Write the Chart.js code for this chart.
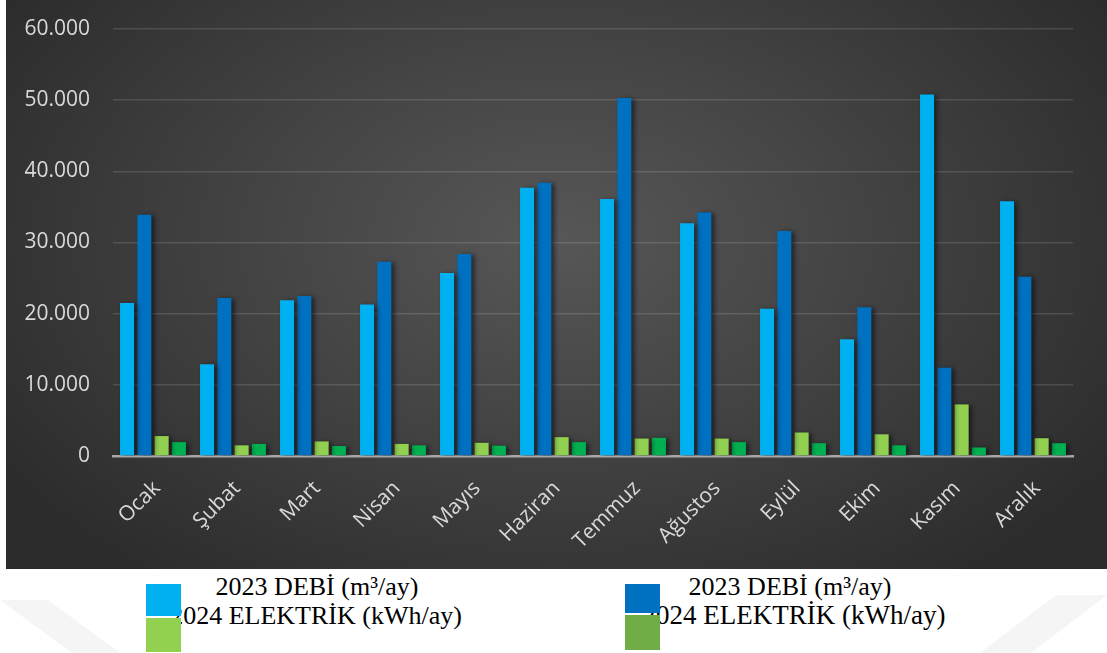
<!DOCTYPE html>
<html>
<head>
<meta charset="utf-8">
<script src="https://cdn.jsdelivr.net/npm/chart.js@4/dist/chart.umd.min.js"></script>
<style>
  html, body { margin: 0; padding: 0; background: #fff; }
  body { width: 1107px; height: 653px; position: relative; overflow: hidden; }
  #panel {
    position: absolute; left: 6px; top: 0; width: 1101px; height: 569px;
    background: radial-gradient(ellipse 60% 75% at 50% 42%, #575757 0%, #444 45%, #2c2c2c 100%);
  }
  #panel canvas { display: block; }
  .wm { position: absolute; background: #f5f5f5; }
  .leg-text {
    position: absolute; width: 420px; text-align: center;
    font-family: "Liberation Serif", "Times New Roman", serif; font-size: 26px;
    line-height: 29px; color: #000; white-space: nowrap;
  }
  .leg-box { position: absolute; width: 35px; z-index: 2; }
</style>
</head>
<body>
<div class="wm" style="left:0;top:600px;width:120px;height:53px;clip-path:polygon(0 0,40% 0,100% 100%,60% 100%);"></div>
<div class="wm" style="left:980px;top:595px;width:127px;height:58px;clip-path:polygon(60% 0,100% 0,40% 100%,0 100%);"></div>
<div id="panel"><canvas id="chart" width="1101" height="569"></canvas></div>
<div id="legend"></div>
<script>
const months = ['Ocak', 'Şubat', 'Mart', 'Nisan', 'Mayıs', 'Haziran', 'Temmuz', 'Ağustos', 'Eylül', 'Ekim', 'Kasım', 'Aralık'];

const seriesLabels = ['2023 DEBİ (m³/ay)', '2023 DEBİ (m³/ay)', '2024 ELEKTRİK (kWh/ay)', '2024 ELEKTRİK (kWh/ay)'];
const debiA = [21500, 12900, 21900, 21300, 25700, 37700, 36100, 32700, 20700, 16400, 50800, 35800];
const debiB = [33900, 22200, 22500, 27300, 28400, 38400, 50300, 34200, 31600, 20900, 12400, 25200];
const elektrikA = [2800, 1500, 2050, 1700, 1850, 2650, 2450, 2450, 3300, 3050, 7250, 2500];
const elektrikB = [1950, 1700, 1400, 1500, 1450, 1950, 2550, 1950, 1800, 1500, 1200, 1800];

const yTickLabels = ['0', '10.000', '20.000', '30.000', '40.000', '50.000', '60.000'];

const barColors = ['#00b0f0', '#0070c0', '#92d050', '#00b050'];
const legendColors = ['#00b0f0', '#0070c0', '#92d050', '#70ad47'];

// soft drop shadow behind every bar
const barShadow = {
  id: 'barShadow',
  beforeDatasetsDraw(chart) {
    const ctx = chart.ctx;
    ctx.save();
    ctx.shadowColor = 'rgba(0,0,0,0.55)';
    ctx.shadowBlur = 5;
    ctx.shadowOffsetX = 3;
    ctx.shadowOffsetY = 1;
  },
  afterDatasetsDraw(chart) {
    chart.ctx.restore();
  }
};

const allSeries = [debiA, debiB, elektrikA, elektrikB];
const datasets = allSeries.map((values, i) => ({
  label: seriesLabels[i],
  data: values,
  backgroundColor: barColors[i],
  borderWidth: 0,
  categoryPercentage: 0.865,
  barPercentage: 0.81
}));

const ctx = document.getElementById('chart').getContext('2d');
new Chart(ctx, {
  type: 'bar',
  data: { labels: months, datasets: datasets },
  plugins: [barShadow],
  options: {
    responsive: false,
    animation: false,
    layout: { padding: { left: 0, right: 34, top: 29, bottom: 0 } },
    plugins: { legend: { display: false }, tooltip: { enabled: false } },
    scales: {
      x: {
        grid: { display: false, drawTicks: false },
        border: { display: true, color: '#a8a8a8', width: 2.5 },
        ticks: {
          color: '#d9d9d9',
          font: { family: 'Open Sans', size: 21 },
          minRotation: 45,
          maxRotation: 45,
          padding: 20,
          labelOffset: 4
        },
        afterFit(scale) { scale.height = 113; }
      },
      y: {
        min: 0,
        max: 60000,
        grid: {
          drawTicks: false,
          lineWidth: 1.5,
          color: c => c.tick && c.tick.value === 0 ? 'rgba(0,0,0,0)' : 'rgba(255,255,255,0.13)'
        },
        border: { display: false },
        ticks: {
          stepSize: 10000,
          color: '#d9d9d9',
          font: { family: 'Open Sans', size: 21 },
          padding: 23,
          callback: (v, i) => yTickLabels[i]
        },
        afterFit(scale) {
          scale.width = 107;
          scale.paddingTop = 0;
          scale.paddingBottom = 0;
        }
      }
    }
  }
});

// legend: two columns, colour boxes laid over the start of the text
const legend = document.getElementById('legend');
const columns = [
  { centers: [317, 316], sizes: [26, 26], boxLeft: 146, items: [0, 2], boxTops: [584, 618], boxHeights: [32, 34] },
  { centers: [790, 794], sizes: [26, 27], boxLeft: 625, items: [1, 3], boxTops: [584, 615], boxHeights: [29, 35] }
];
columns.forEach(col => {
  col.items.forEach((idx, row) => {
    const t = document.createElement('div');
    t.className = 'leg-text';
    t.style.left = (col.centers[row] - 210) + 'px';
    t.style.top = (572 + row * 29) + 'px';
    t.style.fontSize = col.sizes[row] + 'px';
    t.textContent = seriesLabels[idx];
    legend.appendChild(t);

    const b = document.createElement('div');
    b.className = 'leg-box';
    b.style.left = col.boxLeft + 'px';
    b.style.top = col.boxTops[row] + 'px';
    b.style.height = col.boxHeights[row] + 'px';
    b.style.background = legendColors[idx];
    legend.appendChild(b);
  });
});
</script>
</body>
</html>
